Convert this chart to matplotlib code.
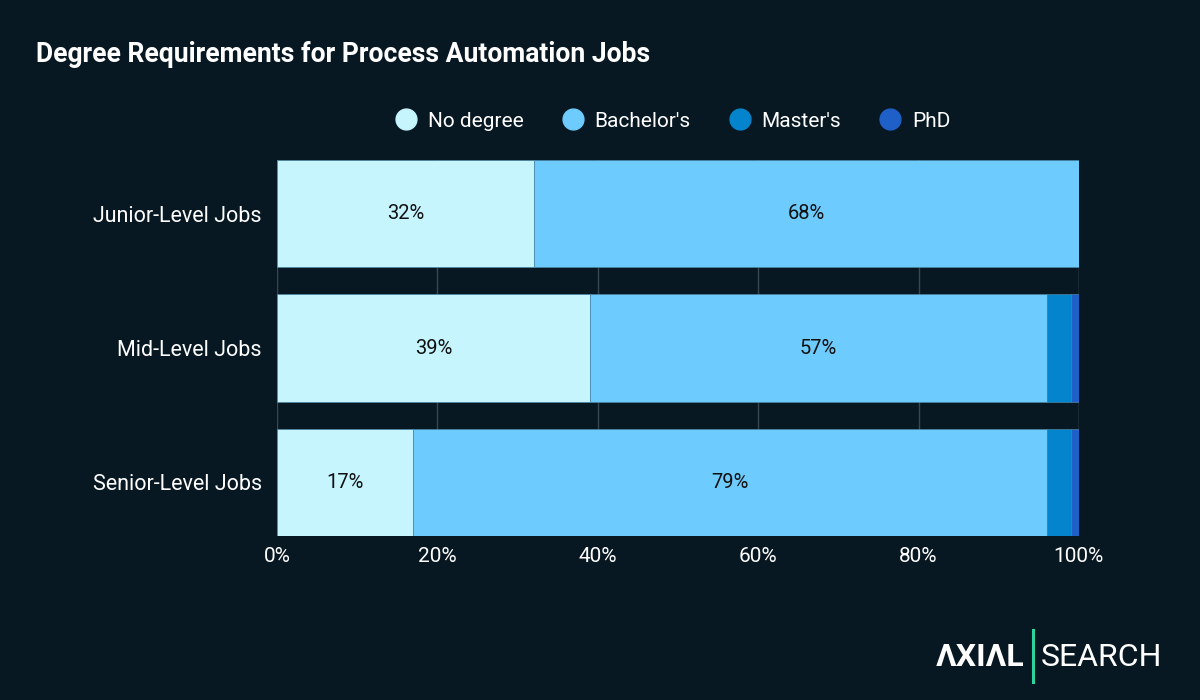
import numpy as np
import matplotlib
matplotlib.use("Agg")
import matplotlib.pyplot as plt
from matplotlib.lines import Line2D

plt.rcParams["font.family"] = ["Roboto", "DejaVu Sans"]

BG = "#081823"

# ---- data ----
categories = ["Junior-Level Jobs", "Mid-Level Jobs", "Senior-Level Jobs"]
series_names = ["No degree", "Bachelor's", "Master's", "PhD"]
no_degree = [32, 39, 17]
bachelors = [68, 57, 79]
masters = [0, 3, 3]
phd = [0, 1, 1]
series_colors = ["#c6f5fe", "#6ecbfd", "#0384cc", "#1f5fc8"]

fig = plt.figure(figsize=(12, 7), dpi=100, facecolor=BG)
ax = fig.add_axes([0.2308, 0.2343, 0.6683, 0.537])
ax.set_facecolor(BG)

values = [no_degree, bachelors, masters, phd]
y = np.arange(len(categories))
left = np.zeros(len(categories))
for name, vals, col in zip(series_names, values, series_colors):
    vals = np.array(vals, dtype=float)
    bars = ax.barh(y, vals, left=left, height=0.8, color=col,
                   edgecolor="#4a86a6", linewidth=0.5, zorder=3, label=name)
    for b, v in zip(bars, vals):
        if v >= 10:
            ax.text(b.get_x() + b.get_width() / 2, b.get_y() + b.get_height() / 2,
                    f"{v:.0f}%", ha="center", va="center", fontsize=14.5,
                    color="#111111", zorder=4)
    left += vals

ax.set_xlim(0, 100)
ax.set_ylim(len(categories) - 0.6, -0.4)
ax.set_yticks(y)
ax.set_yticklabels(categories)
ax.set_xticks([0, 20, 40, 60, 80, 100])
ax.set_xticklabels(["0%", "20%", "40%", "60%", "80%", "100%"])
ax.tick_params(colors="white", labelsize=15, length=0, pad=8)
ax.tick_params(axis="y", labelsize=15.5, pad=11)
ax.grid(axis="x", color="#3a4652", linewidth=1, zorder=0)
for s in ax.spines.values():
    s.set_visible(False)
ax.axvline(100, color="#3a4652", linewidth=1, zorder=0)

# legend
handles = [Line2D([0], [0], marker="o", linestyle="none", markersize=15,
                  markerfacecolor=c, markeredgecolor=c) for c in series_colors]
fig.legend(handles, series_names, loc="center", bbox_to_anchor=(0.56, 0.827),
           ncol=4, frameon=False, fontsize=15, labelcolor="white",
           handlelength=1.2, handletextpad=0.45, columnspacing=1.76)

# title
fig.text(0.030, 0.922, "Degree Requirements for Process Automation Jobs",
         color="white", fontsize=19.1, fontweight="bold", va="center", ha="left")

# logo
fig.text(0.8535, 0.061, "ΛXIΛL", color="white", fontsize=23, fontweight="bold",
         ha="right", va="center")
fig.add_artist(Line2D([0.861, 0.861], [0.026, 0.100], color="#2ed3a0",
                      linewidth=2.2, transform=fig.transFigure))
fig.text(0.8675, 0.061, "SEARCH", color="white", fontsize=23,
         ha="left", va="center")

fig.savefig("out.png", dpi=100, facecolor=BG)
